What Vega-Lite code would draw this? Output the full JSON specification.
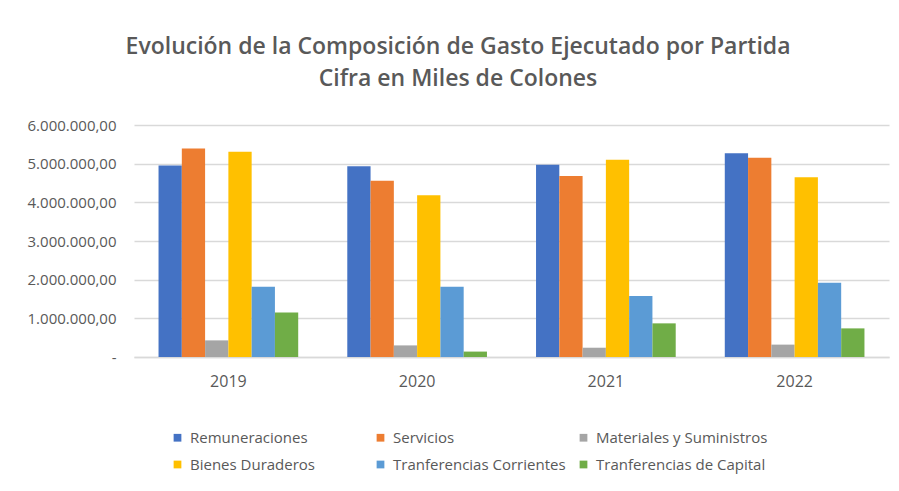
{
  "$schema": "https://vega.github.io/schema/vega-lite/v6.json",
  "width": 755,
  "height": 232,
  "padding": {"left": 27, "top": 36, "right": 9, "bottom": 5},
  "background": "white",
  "config": {
    "locale": {"number": {"decimal": ",", "thousands": ".", "grouping": [3], "currency": ["", ""]}},
    "view": {"stroke": null},
    "font": "Open Sans"
  },
  "title": {
    "text": ["Evolución de la Composición de Gasto Ejecutado por Partida", "Cifra  en Miles de Colones"],
    "font": "Open Sans",
    "fontSize": 23,
    "fontWeight": 600,
    "color": "#595959",
    "lineHeight": 32,
    "anchor": "middle",
    "frame": "bounds",
    "offset": 27,
    "dx": 0
  },
  "data": {
    "values": [
      {"anio": "2019", "partida": "Remuneraciones", "monto": 4950000},
      {"anio": "2019", "partida": "Servicios", "monto": 5390000},
      {"anio": "2019", "partida": "Materiales y Suministros", "monto": 430000},
      {"anio": "2019", "partida": "Bienes Duraderos", "monto": 5310000},
      {"anio": "2019", "partida": "Tranferencias Corrientes", "monto": 1820000},
      {"anio": "2019", "partida": "Tranferencias de Capital", "monto": 1150000},
      {"anio": "2020", "partida": "Remuneraciones", "monto": 4930000},
      {"anio": "2020", "partida": "Servicios", "monto": 4560000},
      {"anio": "2020", "partida": "Materiales y Suministros", "monto": 300000},
      {"anio": "2020", "partida": "Bienes Duraderos", "monto": 4180000},
      {"anio": "2020", "partida": "Tranferencias Corrientes", "monto": 1820000},
      {"anio": "2020", "partida": "Tranferencias de Capital", "monto": 140000},
      {"anio": "2021", "partida": "Remuneraciones", "monto": 4970000},
      {"anio": "2021", "partida": "Servicios", "monto": 4680000},
      {"anio": "2021", "partida": "Materiales y Suministros", "monto": 240000},
      {"anio": "2021", "partida": "Bienes Duraderos", "monto": 5100000},
      {"anio": "2021", "partida": "Tranferencias Corrientes", "monto": 1580000},
      {"anio": "2021", "partida": "Tranferencias de Capital", "monto": 870000},
      {"anio": "2022", "partida": "Remuneraciones", "monto": 5270000},
      {"anio": "2022", "partida": "Servicios", "monto": 5150000},
      {"anio": "2022", "partida": "Materiales y Suministros", "monto": 320000},
      {"anio": "2022", "partida": "Bienes Duraderos", "monto": 4650000},
      {"anio": "2022", "partida": "Tranferencias Corrientes", "monto": 1920000},
      {"anio": "2022", "partida": "Tranferencias de Capital", "monto": 740000}
    ]
  },
  "mark": {"type": "bar"},
  "encoding": {
    "x": {
      "field": "anio",
      "type": "nominal",
      "scale": {"paddingInner": 0.26, "paddingOuter": 0.13},
      "axis": {
        "title": null,
        "labelAngle": 0,
        "labelFont": "Open Sans",
        "labelFontSize": 16,
        "labelColor": "#595959",
        "labelPadding": 16,
        "ticks": false,
        "domainColor": "#d9d9d9",
        "domainWidth": 1.5
      }
    },
    "xOffset": {
      "field": "partida",
      "type": "nominal",
      "sort": ["Remuneraciones", "Servicios", "Materiales y Suministros", "Bienes Duraderos", "Tranferencias Corrientes", "Tranferencias de Capital"],
      "scale": {"paddingInner": 0, "paddingOuter": 0}
    },
    "y": {
      "field": "monto",
      "type": "quantitative",
      "scale": {"domain": [0, 6000000], "nice": false},
      "axis": {
        "title": null,
        "values": [0, 1000000, 2000000, 3000000, 4000000, 5000000, 6000000],
        "labelExpr": "datum.value == 0 ? '-' : format(datum.value, ',.2f')",
        "labelFont": "Open Sans",
        "labelFontSize": 15,
        "labelColor": "#595959",
        "labelPadding": 18,
        "ticks": false,
        "domain": false,
        "gridColor": "#d9d9d9",
        "gridWidth": 1.5
      }
    },
    "color": {
      "field": "partida",
      "type": "nominal",
      "scale": {
        "domain": ["Remuneraciones", "Servicios", "Materiales y Suministros", "Bienes Duraderos", "Tranferencias Corrientes", "Tranferencias de Capital"],
        "range": ["#4472C4", "#ED7D31", "#A5A5A5", "#FFC000", "#5B9BD5", "#70AD47"]
      },
      "legend": {
        "title": null,
        "orient": "none",
        "legendX": 36,
        "legendY": 305,
        "direction": "horizontal",
        "columns": 3,
        "gridAlign": "all",
        "columnPadding": 10,
        "rowPadding": 11,
        "symbolType": "square",
        "symbolSize": 60,
        "symbolStrokeWidth": 0,
        "labelOffset": 5,
        "labelFont": "Open Sans",
        "labelFontSize": 15,
        "labelColor": "#595959",
        "labelLimit": 300
      }
    }
  }
}
